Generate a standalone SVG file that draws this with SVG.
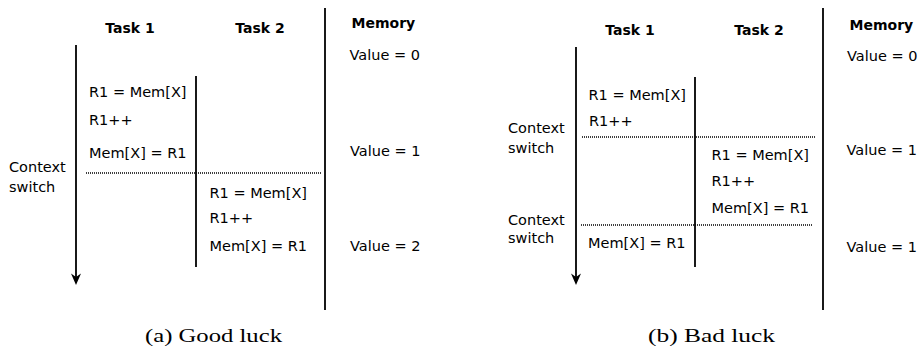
<svg xmlns="http://www.w3.org/2000/svg" width="918" height="349" viewBox="0 0 918 349">
  <style>
    .bg { fill: #ffffff; }
    .txt { font-family: "DejaVu Sans", "Liberation Sans", sans-serif; font-size: 14.5px; fill: #000; }
    .head { font-family: "DejaVu Sans", "Liberation Sans", sans-serif; font-size: 14px; font-weight: bold; fill: #000; }
    .cap { font-family: "Liberation Serif", "DejaVu Serif", serif; font-size: 19px; fill: #000; }
    .rule { stroke: #000; stroke-width: 1.8; fill: none; }
    .switch { stroke: #000; stroke-width: 1.3; stroke-dasharray: 1 1; fill: none; }
    .head-arrow { fill: #000; stroke: none; }
  </style>
  <defs>
    <path id="arrowhead" class="head-arrow" d="M0,0 L-5,-11.5 L0,-8 L5,-11.5 Z"/>
  </defs>
  <rect class="bg" x="0" y="0" width="918" height="349"/>

  <!-- (a) interleaving where task 2 starts after task 1 finishes -->
  <g id="panel-a">
    <g id="a-headers">
      <text class="head" x="130" y="33" text-anchor="middle">Task 1</text>
      <text class="head" x="260" y="33" text-anchor="middle">Task 2</text>
      <text class="head" x="351.5" y="28">Memory</text>
    </g>
    <g id="a-connectors">
      <line class="rule" x1="76" y1="45" x2="76" y2="279"/>
      <use href="#arrowhead" x="76" y="285"/>
      <line class="rule" x1="196" y1="76" x2="196" y2="267"/>
      <line class="rule" x1="325" y1="8" x2="325" y2="310"/>
      <line class="switch" x1="86" y1="173" x2="321" y2="173"/>
    </g>
    <g id="a-task1">
      <text class="txt" x="89" y="97">R1 = Mem[X]</text>
      <text class="txt" x="89" y="125">R1++</text>
      <text class="txt" x="89" y="158">Mem[X] = R1</text>
    </g>
    <g id="a-switch">
      <text class="txt" x="9" y="172">Context</text>
      <text class="txt" x="9" y="192">switch</text>
    </g>
    <g id="a-task2">
      <text class="txt" x="209.5" y="198">R1 = Mem[X]</text>
      <text class="txt" x="209.5" y="223">R1++</text>
      <text class="txt" x="209.5" y="251">Mem[X] = R1</text>
    </g>
    <g id="a-memory">
      <text class="txt" x="349.5" y="60">Value = 0</text>
      <text class="txt" x="350" y="156">Value = 1</text>
      <text class="txt" x="350" y="251">Value = 2</text>
    </g>
    <text id="a-caption" class="cap" x="145" y="342" textLength="137" lengthAdjust="spacingAndGlyphs">(a)  Good luck</text>
  </g>

  <!-- (b) interleaving where task 1 is preempted before its store -->
  <g id="panel-b">
    <g id="b-headers">
      <text class="head" x="630" y="35" text-anchor="middle">Task 1</text>
      <text class="head" x="759" y="35" text-anchor="middle">Task 2</text>
      <text class="head" x="849.5" y="29.5">Memory</text>
    </g>
    <g id="b-connectors">
      <line class="rule" x1="576" y1="47" x2="576" y2="279"/>
      <use href="#arrowhead" x="576" y="285"/>
      <line class="rule" x1="695" y1="77" x2="695" y2="267"/>
      <line class="rule" x1="823" y1="8" x2="823" y2="310"/>
      <line class="switch" x1="582" y1="137" x2="816" y2="137"/>
      <line class="switch" x1="581" y1="225" x2="813" y2="225"/>
    </g>
    <g id="b-task1">
      <text class="txt" x="588.5" y="100">R1 = Mem[X]</text>
      <text class="txt" x="589" y="126">R1++</text>
      <text class="txt" x="588" y="248">Mem[X] = R1</text>
    </g>
    <g id="b-switch">
      <text class="txt" x="508" y="133">Context</text>
      <text class="txt" x="508" y="153">switch</text>
      <text class="txt" x="508" y="225">Context</text>
      <text class="txt" x="508" y="243">switch</text>
    </g>
    <g id="b-task2">
      <text class="txt" x="711.5" y="160">R1 = Mem[X]</text>
      <text class="txt" x="711.5" y="186">R1++</text>
      <text class="txt" x="711.5" y="213">Mem[X] = R1</text>
    </g>
    <g id="b-memory">
      <text class="txt" x="847" y="61">Value = 0</text>
      <text class="txt" x="846.5" y="155">Value = 1</text>
      <text class="txt" x="846.5" y="251.5">Value = 1</text>
    </g>
    <text id="b-caption" class="cap" x="648" y="342" textLength="127" lengthAdjust="spacingAndGlyphs">(b)  Bad luck</text>
  </g>
</svg>
